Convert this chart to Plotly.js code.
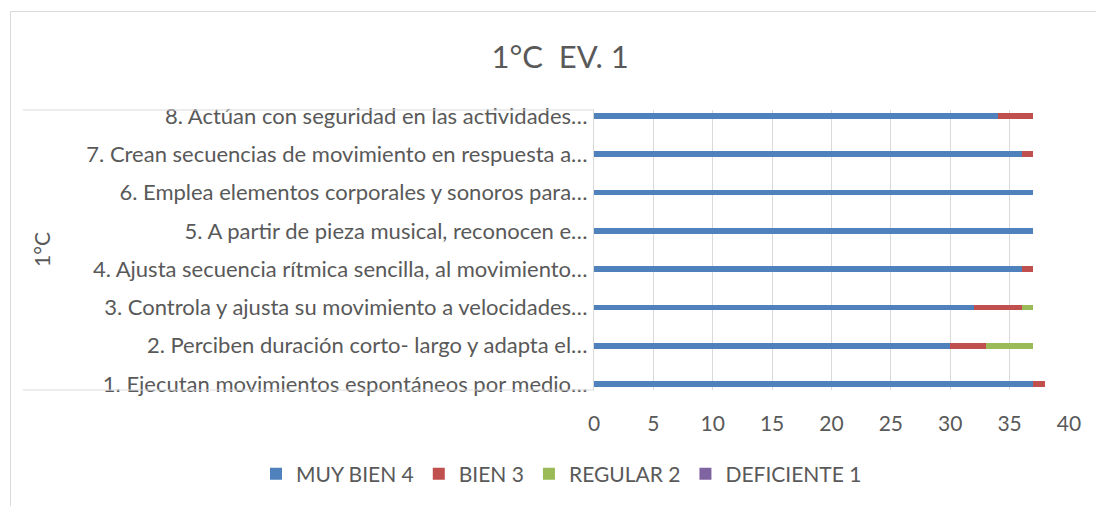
<!DOCTYPE html>
<html>
<head>
<meta charset="utf-8">
<script src="https://cdn.plot.ly/plotly-3.0.1.min.js"></script>
<style>html,body{margin:0;padding:0;background:#fff;}#chart{width:1096px;height:506px;}</style>
</head>
<body>
<div id="chart"></div>
<script>
const categories = [
  "1. Ejecutan movimientos espontáneos por medio…",
  "2. Perciben duración corto- largo y adapta el…",
  "3. Controla y ajusta su movimiento a velocidades…",
  "4. Ajusta secuencia rítmica sencilla, al movimiento…",
  "5. A partir de pieza musical, reconocen e…",
  "6. Emplea elementos corporales y sonoros para…",
  "7. Crean secuencias de movimiento en respuesta a…",
  "8. Actúan con seguridad en las actividades…"
];
const muyBien4 = [37, 30, 32, 36, 37, 37, 36, 34];
const bien3 = [1, 3, 4, 1, 0, 0, 1, 3];
const regular2 = [0, 4, 1, 0, 0, 0, 0, 0];
const deficiente1 = [0, 0, 0, 0, 0, 0, 0, 0];
const seriesNames = ["MUY BIEN 4", "BIEN 3", "REGULAR 2", "DEFICIENTE 1"];
const seriesColors = ["#4F81BD", "#C0504D", "#9BBB59", "#8064A2"];
const xTicks = [0, 5, 10, 15, 20, 25, 30, 35, 40];
const groupLabel = "1°C";
const chartTitle = "1°C  EV. 1";

const series = [muyBien4, bien3, regular2, deficiente1];
const FONT = "Lato, 'Noto Sans', sans-serif";
const TXT = "#595959";
const GRID = "#D9D9D9";

const traces = series.map((vals, i) => ({
  type: "bar",
  orientation: "h",
  name: seriesNames[i],
  x: vals,
  y: categories,
  marker: {color: seriesColors[i]},
  hoverinfo: "x+name"
}));

const layout = {
  width: 1096,
  height: 506,
  margin: {l: 594, r: 27, t: 110, b: 116},
  paper_bgcolor: "#fff",
  plot_bgcolor: "#fff",
  barmode: "stack",
  bargap: 0.856,
  font: {family: FONT, color: TXT, size: 21},
  title: {
    text: chartTitle,
    font: {family: FONT, size: 31, color: TXT},
    x: 0.511, xref: "container", xanchor: "center",
    y: 0.887, yref: "container", yanchor: "middle"
  },
  xaxis: {
    range: [0, 40],
    tickvals: xTicks,
    ticktext: xTicks.map(String),
    showgrid: true,
    gridcolor: GRID,
    gridwidth: 1,
    zeroline: false,
    showline: false,
    ticks: "",
    tickfont: {family: FONT, size: 21, color: TXT},
    ticklabelstandoff: 19,
    fixedrange: true
  },
  yaxis: {
    type: "category",
    categoryorder: "array",
    categoryarray: categories,
    range: [-0.155, 7.155],
    showgrid: false,
    zeroline: false,
    showline: true,
    linecolor: GRID,
    linewidth: 1,
    ticks: "",
    tickfont: {family: FONT, size: 22, color: TXT},
    ticklabelstandoff: 1,
    automargin: false,
    fixedrange: true
  },
  legend: {
    orientation: "h",
    x: (256 - 594) / 475, xanchor: "left",
    y: -0.3, yanchor: "middle",
    font: {family: FONT, size: 21, color: TXT},
    itemwidth: 30,
    traceorder: "normal"
  },
  annotations: [{
    text: groupLabel,
    xref: "paper", yref: "paper",
    x: (41 - 594) / 475, y: (390 - 250) / 280,
    xanchor: "center", yanchor: "middle",
    textangle: -90,
    showarrow: false,
    font: {family: FONT, size: 21, color: TXT}
  }],
  shapes: [
    {type: "line", xref: "paper", yref: "paper", x0: (23 - 594) / 475, x1: 0, y0: 1, y1: 1, line: {color: GRID, width: 1}},
    {type: "line", xref: "paper", yref: "paper", x0: (23 - 594) / 475, x1: 0, y0: 0, y1: 0, line: {color: GRID, width: 1}},
    {type: "rect", xref: "paper", yref: "paper", x0: (10.5 - 594) / 475, x1: 1.2, y0: (390 - 11.5) / 280, y1: -0.6, line: {color: GRID, width: 1}}
  ],
  showlegend: true
};

Plotly.newPlot("chart", traces, layout, {displayModeBar: false, staticPlot: true});
</script>
</body>
</html>
